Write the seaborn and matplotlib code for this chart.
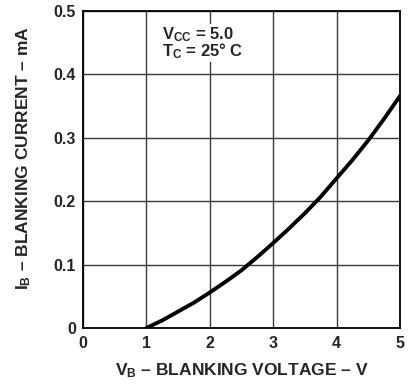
import matplotlib
matplotlib.use("Agg")
import matplotlib.pyplot as plt
import seaborn as sns
import pandas as pd

vb = [1.0, 1.25, 1.5, 1.75, 2.0, 2.25, 2.5, 2.75, 3.0, 3.25, 3.5, 3.75, 4.0, 4.25, 4.5, 4.75, 5.0]
ib = [0.0, 0.012, 0.026, 0.040, 0.056, 0.073, 0.091, 0.112, 0.134, 0.157, 0.181, 0.207, 0.236, 0.265, 0.296, 0.330, 0.366]
xticks = [0, 1, 2, 3, 4, 5]
yticks = [0, 0.1, 0.2, 0.3, 0.4, 0.5]
yticklabels = ["0", "0.1", "0.2", "0.3", "0.4", "0.5"]

sns.set_theme(style="white")
plt.rcParams['font.family'] = ['Liberation Sans', 'DejaVu Sans']
plt.rcParams['mathtext.fontset'] = 'custom'
plt.rcParams['mathtext.rm'] = 'Liberation Sans:bold'
plt.rcParams['mathtext.bf'] = 'Liberation Sans:bold'
plt.rcParams['mathtext.it'] = 'Liberation Sans:bold'

df = pd.DataFrame({"VB": vb, "IB": ib})

fig = plt.figure(figsize=(4.16, 3.89), dpi=100)
ax = fig.add_axes([0.1995, 0.1568, 0.762, 0.815])
sns.lineplot(data=df, x="VB", y="IB", ax=ax, color="black", linewidth=2.8)

ax.set_xlim(0, 5)
ax.set_ylim(0, 0.5)
ax.set_xticks(xticks)
ax.set_yticks(yticks)
ax.set_xticklabels([str(t) for t in xticks], fontsize=11.5, fontweight="bold")
ax.set_yticklabels(yticklabels, fontsize=11.5, fontweight="bold")
ax.tick_params(axis="x", length=0, pad=6)
ax.tick_params(axis="y", length=0, pad=5)
ax.grid(True, color="#3a3a3a", linewidth=1.0)
for s in ax.spines.values():
    s.set_color("black")
    s.set_linewidth(1.3)

ax.set_xlabel(r"$\mathrm{V_B}$ – BLANKING VOLTAGE – V", fontsize=12.5, fontweight="bold")
ax.set_ylabel(r"$\mathrm{I_B}$ – BLANKING CURRENT – mA", fontsize=12.5, fontweight="bold")
ax.xaxis.set_label_coords(0.5, -0.105)
ax.yaxis.set_label_coords(-0.158, 0.535)

ax.text(1.25, 0.478, r"$\mathrm{V_{CC}}$ = 5.0" + "\n" + r"$\mathrm{T_C}$ = 25° C",
        fontsize=12, fontweight="bold", va="top", ha="left", linespacing=0.85,
        bbox=dict(facecolor="white", edgecolor="none", pad=1.0))

fig.savefig("out.png", dpi=100)
